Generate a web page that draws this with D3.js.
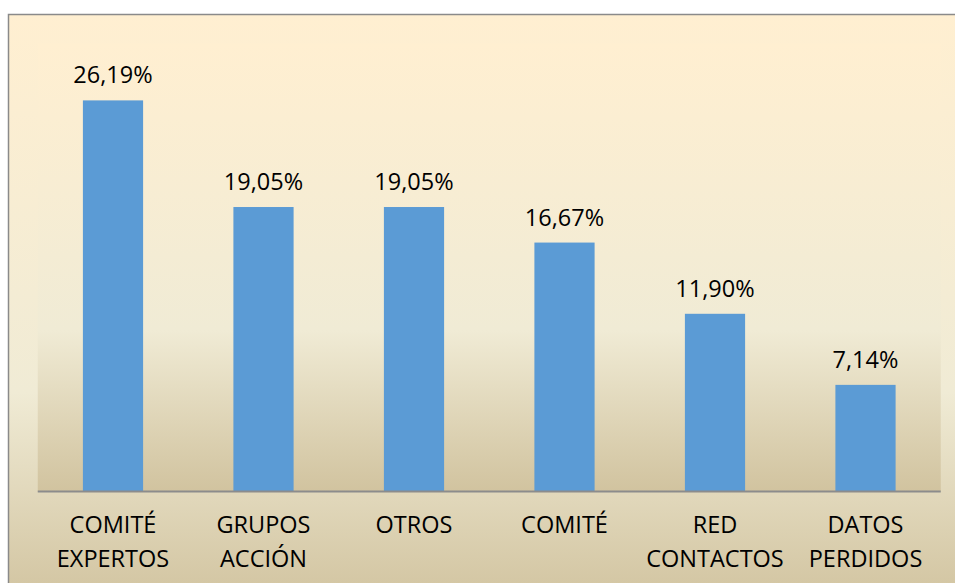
<!DOCTYPE html>
<html>
<head>
<meta charset="utf-8">
<script src="https://cdn.jsdelivr.net/npm/d3@7"></script>
<style>
  html, body { margin: 0; padding: 0; background: #ffffff; }
  svg { display: block; }
  text { font-family: "Open Sans", "Noto Sans", sans-serif; fill: #000; }
</style>
</head>
<body>
<svg id="chart" width="955" height="583"></svg>
<script>
// Categories (multi-line labels) and their percentages
const categories = [
  ["COMITÉ", "EXPERTOS"],
  ["GRUPOS", "ACCIÓN"],
  ["OTROS"],
  ["COMITÉ"],
  ["RED", "CONTACTOS"],
  ["DATOS", "PERDIDOS"]
];
const values = [26.19, 19.05, 19.05, 16.67, 11.90, 7.14];
const valueLabels = ["26,19%", "19,05%", "19,05%", "16,67%", "11,90%", "7,14%"];
const yDomain = [0, 30];

const svg = d3.select("#chart");
const W = 955, H = 583;

// Parchment gradient used by chart area and plot area
const defs = svg.append("defs");
function parchment(id) {
  const g = defs.append("linearGradient").attr("id", id)
    .attr("x1", 0).attr("y1", 0).attr("x2", 0).attr("y2", 1);
  g.append("stop").attr("offset", "0%").attr("stop-color", "#ffefd1");
  g.append("stop").attr("offset", "64%").attr("stop-color", "#f0ebd5");
  g.append("stop").attr("offset", "100%").attr("stop-color", "#d1c39f");
}
parchment("bgChart");
parchment("bgPlot");

// Chart area (extends past the bottom/right of the view)
svg.append("rect")
  .attr("x", 8.5).attr("y", 14.5)
  .attr("width", 960).attr("height", 590)
  .attr("fill", "url(#bgChart)")
  .attr("stroke", "#8a8a8a").attr("stroke-width", 1.5);

const plot = { left: 37.75, right: 940.75, top: 43.5, bottom: 491.5 };

svg.append("rect")
  .attr("x", plot.left).attr("y", plot.top)
  .attr("width", plot.right - plot.left).attr("height", plot.bottom - plot.top)
  .attr("fill", "url(#bgPlot)");

const x = d3.scaleBand()
  .domain(d3.range(categories.length))
  .range([plot.left, plot.right])
  .paddingInner(0.6).paddingOuter(0.3);

const y = d3.scaleLinear().domain(yDomain).range([plot.bottom, plot.top]);

// Bars
svg.append("g").selectAll("rect")
  .data(values)
  .join("rect")
  .attr("x", (d, i) => x(i))
  .attr("y", d => y(d))
  .attr("width", x.bandwidth())
  .attr("height", d => y(0) - y(d))
  .attr("fill", "#5b9bd5");

// Value labels
svg.append("g").selectAll("text")
  .data(values)
  .join("text")
  .attr("x", (d, i) => x(i) + x.bandwidth() / 2)
  .attr("y", d => y(d) - 17)
  .attr("text-anchor", "middle")
  .attr("font-size", "23.5px")
  .text((d, i) => valueLabels[i]);

// Category axis
const xAxis = d3.axisBottom(x).tickSize(0).tickFormat(() => "");
const axisG = svg.append("g")
  .attr("transform", `translate(0,${plot.bottom})`)
  .call(xAxis);
axisG.select(".domain")
  .attr("d", `M${plot.left},0H${plot.right}`)
  .attr("stroke", "#8c8c8c").attr("stroke-width", 2);

axisG.selectAll(".tick text").remove();
axisG.selectAll(".tick").append("text")
  .attr("text-anchor", "middle")
  .attr("font-size", "23.5px")
  .attr("fill", "#000")
  .each(function(d) {
    const t = d3.select(this);
    categories[d].forEach((line, k) => {
      t.append("tspan").attr("x", 0).attr("y", 41.5 + k * 34).text(line);
    });
  });
</script>
</body>
</html>
